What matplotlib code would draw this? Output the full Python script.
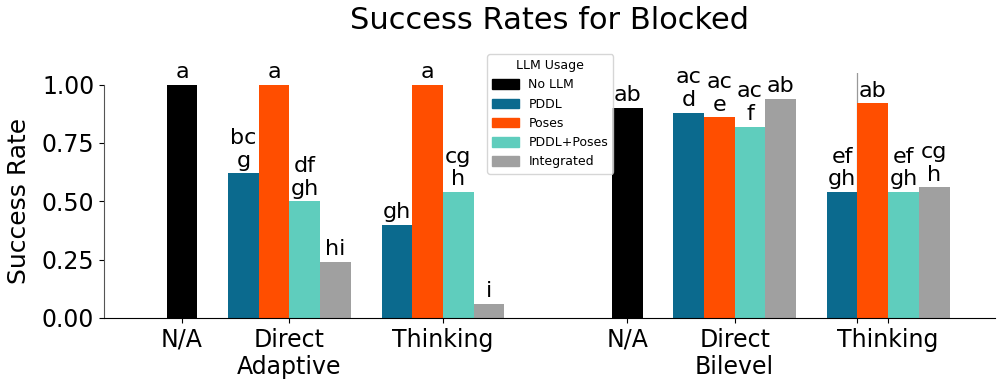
import numpy as np
import matplotlib.pyplot as plt

# data
methods = ['PDDL', 'Poses', 'PDDL+Poses', 'Integrated']
colors = {'No LLM': '#000000', 'PDDL': '#0b6a8e', 'Poses': '#ff4e00',
          'PDDL+Poses': '#5fcdbd', 'Integrated': '#a0a0a0'}

na_adaptive = 1.00
direct_adaptive = [0.62, 1.00, 0.50, 0.24]
thinking_adaptive = [0.40, 1.00, 0.54, 0.06]
na_bilevel = 0.90
direct_bilevel = [0.88, 0.86, 0.82, 0.94]
thinking_bilevel = [0.54, 0.92, 0.54, 0.56]

letters_na_adaptive = 'a'
letters_direct_adaptive = ['bc\ng', 'a', 'df\ngh', 'hi']
letters_thinking_adaptive = ['gh', 'a', 'cg\nh', 'i']
letters_na_bilevel = 'ab'
letters_direct_bilevel = ['ac\nd', 'ac\ne', 'ac\nf', 'ab']
letters_thinking_bilevel = ['ef\ngh', 'ab', 'ef\ngh', 'cg\nh']

group_labels = ['N/A', 'Direct\nAdaptive', 'Thinking', 'N/A', 'Direct\nBilevel', 'Thinking']
centers = [0, 3.5, 8.5, 14.5, 18, 23]

fig = plt.figure(figsize=(10, 3.84), dpi=100)
ax = fig.add_axes([0.104, 0.172, 0.891, 0.638])

w = 1.0
offsets = (np.arange(4) - 1.5) * w


def label(x, y, txt):
    ax.annotate(txt, (x, y), xytext=(0, 2), textcoords='offset points',
                ha='center', va='bottom', fontsize=16, linespacing=1.15)


# thin divider line seen in the reference
ax.axvline(22, color='#999999', lw=0.9, zorder=0)

for c, v, t in [(centers[0], na_adaptive, letters_na_adaptive),
                (centers[3], na_bilevel, letters_na_bilevel)]:
    ax.bar(c, v, w, color=colors['No LLM'], zorder=2)
    label(c, v, t)

groups = [(centers[1], direct_adaptive, letters_direct_adaptive),
          (centers[2], thinking_adaptive, letters_thinking_adaptive),
          (centers[4], direct_bilevel, letters_direct_bilevel),
          (centers[5], thinking_bilevel, letters_thinking_bilevel)]
for c, vals, lets in groups:
    for off, m, v, t in zip(offsets, methods, vals, lets):
        ax.bar(c + off, v, w, color=colors[m], zorder=2)
        label(c + off, v, t)

ax.set_xlim(-2.54, 26.48)
ax.set_ylim(0, 1.05)
ax.set_yticks([0, 0.25, 0.5, 0.75, 1.0])
ax.set_yticklabels(['0.00', '0.25', '0.50', '0.75', '1.00'])
ax.set_xticks(centers + [22])
ax.set_xticklabels(group_labels + [''])
ax.tick_params(axis='both', labelsize=17)
ax.set_ylabel('Success Rate', fontsize=18)
ax.yaxis.set_label_coords(-0.082, 0.476)
ax.spines['top'].set_visible(False)
ax.spines['right'].set_visible(False)
ax.spines['left'].set_bounds(0, 1)
ax.spines['left'].set_color('#555555')

fig.suptitle('Success Rates for Blocked', fontsize=22, x=0.549, y=0.985)

handles = [plt.Rectangle((0, 0), 1, 1, color=colors[k]) for k in colors]
fig.legend(handles, list(colors.keys()), title='LLM Usage', fontsize=9,
           title_fontsize=9, loc='upper left', bbox_to_anchor=(0.481, 0.875),
           handlelength=2.1, handleheight=0.8, labelspacing=0.5)

fig.savefig('out.png', dpi=100)
